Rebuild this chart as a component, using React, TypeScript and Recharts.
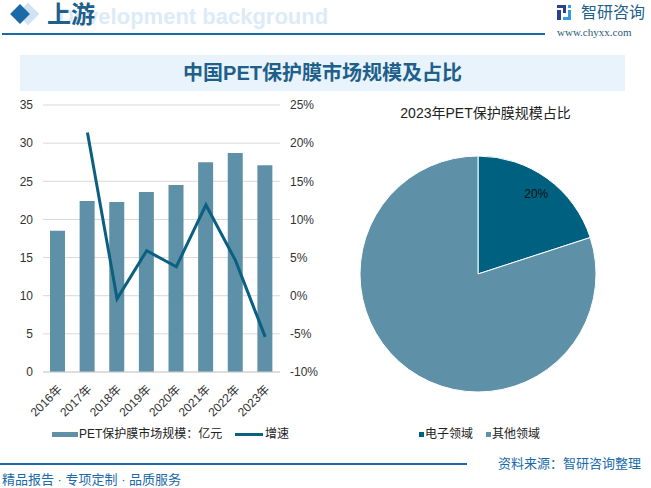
import React from 'react'
import { ComposedChart, Bar, Line, XAxis, YAxis, CartesianGrid, PieChart, Pie, Cell } from 'recharts'

const years = ['2016年', '2017年', '2018年', '2019年', '2020年', '2021年', '2022年', '2023年']
const marketSize = [18.5, 22.4, 22.3, 23.6, 24.5, 27.5, 28.7, 27.1]
const growth: (number | null)[] = [null, 21.4, -0.4, 5.9, 3.8, 11.9, 4.6, -5.4]
const leftTicks = [0, 5, 10, 15, 20, 25, 30, 35]
const rightTicks = [-10, -5, 0, 5, 10, 15, 20, 25]

const shareNames = ['电子领域', '其他领域']
const shareValues = [20, 80]

const BAR = '#5e91a8'
const LINE = '#0b5f80'
const DARK = '#00607f'
const BLUE = '#1f5f8b'
const FONT = '"Liberation Sans", "Noto Sans CJK SC", sans-serif'

const barData = years.map((y, i) => ({ year: y, size: marketSize[i], rate: growth[i] }))
const pieData = shareNames.map((n, i) => ({ name: n, value: shareValues[i] }))
const pieColors = [DARK, BAR]

function YearTick(props: any) {
  const { x, y, payload } = props
  return (
    <text x={x + 5} y={y + 10} transform={`rotate(-45 ${x + 5} ${y + 10})`} textAnchor="end"
      fontSize={12} fill="#333" fontFamily={FONT}>{payload.value}</text>
  )
}

function pieLabel(p: any) {
  if (p.index !== 0) return null
  const RAD = Math.PI / 180
  const r = p.outerRadius * 0.84
  const x = p.cx + r * Math.cos(-p.midAngle * RAD)
  const y = p.cy + r * Math.sin(-p.midAngle * RAD)
  return (
    <text x={x} y={y} textAnchor="middle" dominantBaseline="central" fontSize={12} fill="#111" fontFamily={FONT}>
      {`${Math.round(p.percent * 100)}%`}
    </text>
  )
}

export default function App() {
  return (
    <div style={{ position: 'fixed', left: 0, top: 0, width: 651, height: 488, background: '#fff', overflow: 'hidden', fontFamily: FONT }}>
      {/* header */}
      <div style={{ position: 'absolute', left: 20, top: 6, width: 16, height: 16, background: '#cfe3f2', transform: 'rotate(45deg)' }} />
      <div style={{ position: 'absolute', left: 13, top: 7, width: 14, height: 14, background: '#1a6aa8', transform: 'rotate(45deg)' }} />
      <div style={{ position: 'absolute', left: 58, top: 4, fontSize: 22, fontWeight: 700, color: '#dcebf7', whiteSpace: 'nowrap' }}>Development background</div>
      <div style={{ position: 'absolute', left: 47, top: 0, fontSize: 24, fontWeight: 700, color: BLUE, lineHeight: '30px' }}>上游</div>
      <div style={{ position: 'absolute', left: 2, top: 33, width: 543, height: 2, background: '#1a6aa8' }} />
      <svg style={{ position: 'absolute', left: 557, top: 5 }} width={19} height={15}>
        <rect x={0} y={0} width={9} height={3} fill="#2a3f8f" />
        <rect x={6} y={0} width={3} height={8} fill="#2a3f8f" />
        <rect x={0} y={5} width={4} height={10} fill="#2a3f8f" />
        <rect x={11} y={0} width={3} height={3} fill="#3a9ae0" />
        <rect x={11} y={5} width={3} height={10} fill="#3a9ae0" />
        <rect x={6} y={12} width={8} height={3} fill="#3a9ae0" />
      </svg>
      <div style={{ position: 'absolute', left: 581, top: 3, fontSize: 16, color: BLUE, lineHeight: '20px' }}>智研咨询</div>
      <div style={{ position: 'absolute', left: 557, top: 26, fontSize: 11, color: '#2a5a7a', fontFamily: '"Liberation Serif", serif' }}>www.chyxx.com</div>

      {/* title banner */}
      <div style={{ position: 'absolute', left: 20, top: 55, width: 605, height: 36, background: '#e8f3fb' }} />
      <div style={{ position: 'absolute', left: 20, top: 55, width: 605, height: 36, lineHeight: '36px', textAlign: 'center', fontSize: 20, fontWeight: 700, color: BLUE }}>
        中国PET保护膜市场规模及占比
      </div>

      {/* left chart */}
      <div style={{ position: 'absolute', left: 0, top: 95 }}>
        <ComposedChart width={330} height={330} data={barData} margin={{ top: 10, right: 0, bottom: 0, left: 0 }}>
          <CartesianGrid vertical={false} stroke="#d9d9d9" yAxisId="left" />
          <XAxis dataKey="year" height={53} tick={<YearTick />} tickLine={false} axisLine={{ stroke: '#d0d0d0' }} interval={0} />
          <YAxis yAxisId="left" width={43} domain={[0, 35]} ticks={leftTicks} axisLine={false} tickLine={false}
            tick={{ fontSize: 12, fill: '#333', fontFamily: FONT }} tickMargin={4} />
          <YAxis yAxisId="right" orientation="right" width={50} domain={[-10, 25]} ticks={rightTicks} axisLine={false} tickLine={false}
            tickFormatter={(v: number) => `${v}%`} tick={{ fontSize: 12, fill: '#333', fontFamily: FONT }} tickMargin={4} />
          <Bar yAxisId="left" dataKey="size" fill={BAR} barSize={15} isAnimationActive={false} />
          <Line yAxisId="right" dataKey="rate" stroke={LINE} strokeWidth={3} dot={false} type="linear" isAnimationActive={false} />
        </ComposedChart>
      </div>

      {/* left legend */}
      <div style={{ position: 'absolute', left: 52, top: 432, width: 26, height: 5, background: BAR }} />
      <div style={{ position: 'absolute', left: 79, top: 425, fontSize: 12, color: '#222', lineHeight: '18px', whiteSpace: 'nowrap' }}>PET保护膜市场规模：亿元</div>
      <div style={{ position: 'absolute', left: 235, top: 433, width: 28, height: 3, background: LINE }} />
      <div style={{ position: 'absolute', left: 265, top: 425, fontSize: 12, color: '#222', lineHeight: '18px' }}>增速</div>

      {/* pie */}
      <div style={{ position: 'absolute', left: 325, top: 102, width: 321, textAlign: 'center', fontSize: 14, color: '#222', whiteSpace: 'nowrap' }}>
        2023年PET保护膜规模占比
      </div>
      <div style={{ position: 'absolute', left: 330, top: 95 }}>
        <PieChart width={321} height={320}>
          <Pie data={pieData} dataKey="value" nameKey="name" cx={143} cy={174} outerRadius={118} startAngle={90} endAngle={-270}
            stroke="#fff" strokeWidth={1} label={pieLabel} labelLine={false} isAnimationActive={false}>
            {pieData.map((d, i) => <Cell key={d.name} fill={pieColors[i]} />)}
          </Pie>
        </PieChart>
      </div>

      {/* pie legend */}
      {pieData.map((d, i) => (
        <div key={d.name} style={{ position: 'absolute', left: 419 + i * 67, top: 425, display: 'flex', alignItems: 'center', fontSize: 12, color: '#222', lineHeight: '18px' }}>
          <span style={{ display: 'inline-block', width: 5, height: 5, background: pieColors[i], marginRight: 1 }} />
          {d.name}
        </div>
      ))}

      {/* footer */}
      <div style={{ position: 'absolute', left: 0, top: 463, width: 467, height: 2, background: '#1a6aa8' }} />
      <div style={{ position: 'absolute', left: 498, top: 455, fontSize: 13, color: '#1a6aa8', lineHeight: '18px', whiteSpace: 'nowrap' }}>资料来源：智研咨询整理</div>
      <div style={{ position: 'absolute', left: 2, top: 471, fontSize: 13, color: '#1a6aa8', lineHeight: '17px', whiteSpace: 'nowrap' }}>精品报告 · 专项定制 · 品质服务</div>
    </div>
  )
}
